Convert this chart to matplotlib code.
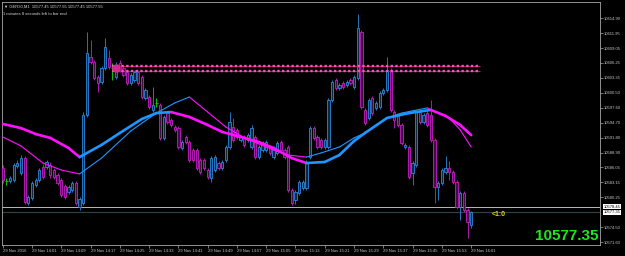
import matplotlib
matplotlib.use("Agg")
import matplotlib.pyplot as plt
import numpy as np
from matplotlib.collections import LineCollection

# GER30 M1 bars, 29 Nov 2016 13:53 .. 16:01
opens = [10585.95, 10583.45, 10583.45, 10583.60, 10586.35, 10584.95, 10587.85, 10579.20, 10580.15, 10582.65,
         10583.60, 10586.15, 10586.15, 10586.50, 10585.55, 10584.60, 10583.60, 10582.45, 10581.30, 10581.70,
         10583.05, 10578.40, 10579.20, 10596.15, 10607.35, 10606.40, 10603.50, 10602.55, 10605.25, 10607.20,
         10605.25, 10603.50, 10606.20, 10605.25, 10604.50, 10602.35, 10602.95, 10604.50, 10603.50, 10599.45,
         10599.65, 10597.15, 10598.50, 10598.10, 10591.75, 10596.55, 10595.20, 10593.85, 10593.65, 10589.80,
         10591.95, 10590.95, 10589.40, 10589.40, 10587.50, 10587.50, 10585.55, 10584.00, 10585.55, 10586.90,
         10585.95, 10587.50, 10590.00, 10593.85, 10593.30, 10591.35, 10591.95, 10591.35, 10590.00, 10591.95,
         10588.05, 10589.40, 10589.40, 10590.00, 10588.05, 10588.85, 10590.95, 10589.40, 10590.00, 10581.70,
         10579.75, 10581.10, 10582.10, 10582.10, 10588.05, 10593.65, 10591.95, 10591.35, 10590.00, 10590.00,
         10599.05, 10602.95, 10601.40, 10602.35, 10601.95, 10602.95, 10601.60, 10603.30, 10612.20, 10597.15,
         10595.60, 10599.45, 10597.55, 10597.70, 10600.40, 10601.00, 10604.85, 10596.75, 10596.15, 10594.25,
         10590.00, 10590.00, 10584.95, 10586.50, 10596.75, 10594.80, 10596.55, 10596.15, 10591.35, 10582.25,
         10583.05, 10585.15, 10585.95, 10585.15, 10583.25, 10578.40, 10581.10, 10577.85, 10574.95]
highs = [10586.50, 10584.00, 10584.40, 10586.90, 10587.50, 10588.45, 10588.25, 10580.75, 10583.45, 10584.00,
         10585.95, 10586.70, 10587.50, 10587.10, 10585.95, 10584.95, 10584.00, 10582.85, 10582.65, 10583.45,
         10583.45, 10580.35, 10596.75, 10612.20, 10610.65, 10606.80, 10603.90, 10605.65, 10611.05, 10608.75,
         10606.20, 10606.40, 10606.80, 10605.65, 10604.85, 10604.30, 10604.85, 10604.85, 10603.90, 10601.40,
         10600.05, 10601.60, 10599.45, 10598.50, 10596.15, 10596.95, 10595.60, 10594.25, 10594.05, 10591.35,
         10592.30, 10591.35, 10589.80, 10589.80, 10587.85, 10587.85, 10585.95, 10588.25, 10588.45, 10587.30,
         10587.50, 10590.40, 10596.75, 10595.60, 10593.65, 10592.30, 10592.30, 10592.70, 10594.25, 10592.30,
         10590.40, 10591.15, 10591.35, 10590.40, 10590.20, 10591.15, 10591.35, 10589.80, 10590.40, 10582.10,
         10581.70, 10583.60, 10583.60, 10587.50, 10594.05, 10594.05, 10592.30, 10591.75, 10591.75, 10599.45,
         10602.95, 10603.30, 10602.35, 10602.75, 10602.95, 10603.30, 10603.90, 10615.70, 10612.60, 10597.55,
         10599.45, 10599.85, 10598.90, 10600.80, 10601.40, 10607.35, 10605.25, 10597.15, 10596.55, 10594.65,
         10590.75, 10590.40, 10587.30, 10597.15, 10597.15, 10596.55, 10596.95, 10599.05, 10591.75, 10583.45,
         10585.95, 10588.25, 10587.30, 10585.55, 10583.60, 10581.50, 10581.50, 10578.20, 10577.65]
lows = [10583.05, 10582.65, 10583.05, 10583.25, 10585.95, 10584.60, 10579.00, 10578.80, 10579.75, 10582.25,
        10583.25, 10583.80, 10585.75, 10584.00, 10583.80, 10582.65, 10580.35, 10579.95, 10580.90, 10581.30,
        10578.80, 10577.85, 10578.80, 10595.80, 10606.00, 10602.95, 10600.60, 10602.15, 10604.85, 10605.05,
        10602.95, 10603.15, 10604.50, 10603.50, 10601.95, 10601.95, 10602.55, 10601.95, 10599.25, 10599.05,
        10597.35, 10596.75, 10597.70, 10591.35, 10591.35, 10594.45, 10593.85, 10592.90, 10589.60, 10589.40,
        10590.55, 10587.10, 10587.10, 10585.55, 10584.80, 10585.55, 10583.80, 10583.25, 10585.15, 10585.55,
        10585.55, 10587.10, 10589.60, 10590.95, 10591.55, 10590.95, 10590.00, 10590.95, 10589.60, 10587.70,
        10587.70, 10589.05, 10589.05, 10588.45, 10587.70, 10588.45, 10589.05, 10587.70, 10581.30, 10578.80,
        10579.00, 10580.75, 10581.70, 10581.70, 10587.70, 10591.35, 10589.60, 10589.60, 10589.60, 10589.60,
        10598.70, 10601.00, 10601.00, 10601.20, 10601.60, 10601.95, 10601.20, 10602.95, 10597.35, 10594.25,
        10595.20, 10596.15, 10597.15, 10597.35, 10600.05, 10600.60, 10596.75, 10593.65, 10593.85, 10590.40,
        10589.60, 10583.80, 10582.65, 10586.15, 10594.45, 10594.45, 10593.85, 10590.95, 10579.20, 10579.75,
        10582.65, 10584.80, 10583.60, 10582.85, 10578.00, 10575.90, 10577.45, 10572.40, 10574.35]
closes = [10583.60, 10583.45, 10584.00, 10586.50, 10586.90, 10587.85, 10579.35, 10580.35, 10583.05, 10583.60,
          10585.55, 10584.20, 10587.10, 10584.60, 10584.20, 10583.05, 10580.75, 10580.35, 10582.25, 10583.05,
          10579.20, 10579.95, 10596.15, 10608.15, 10606.40, 10603.30, 10602.35, 10605.25, 10609.30, 10605.45,
          10605.25, 10605.85, 10604.85, 10603.90, 10602.35, 10603.90, 10604.50, 10602.35, 10599.65, 10601.00,
          10597.70, 10598.10, 10598.50, 10591.75, 10595.80, 10594.80, 10594.25, 10593.30, 10590.00, 10590.95,
          10590.95, 10587.50, 10587.50, 10585.95, 10585.15, 10585.95, 10584.20, 10587.85, 10588.05, 10585.95,
          10587.10, 10590.00, 10594.80, 10591.35, 10591.95, 10591.95, 10590.40, 10592.30, 10593.65, 10588.05,
          10590.00, 10590.75, 10590.95, 10588.85, 10589.80, 10590.75, 10589.40, 10588.05, 10581.70, 10579.20,
          10581.30, 10583.25, 10583.25, 10587.10, 10593.65, 10591.75, 10590.00, 10590.00, 10591.35, 10599.05,
          10602.55, 10601.40, 10601.95, 10601.60, 10602.55, 10602.35, 10603.50, 10612.95, 10597.70, 10594.65,
          10599.05, 10596.55, 10598.50, 10600.40, 10601.00, 10604.85, 10597.15, 10595.20, 10594.25, 10590.75,
          10590.40, 10584.20, 10586.90, 10596.75, 10594.80, 10596.15, 10594.25, 10591.35, 10582.25, 10583.05,
          10585.55, 10585.95, 10585.15, 10583.25, 10578.40, 10581.10, 10577.85, 10575.50, 10577.35]

# moving averages (bar index, price)
slow_idx = [0, 5, 9, 13, 18, 21, 27, 32, 38, 42, 46, 51, 56, 60, 65, 70, 74, 79, 83, 88, 92, 96, 99, 105,
            111, 117, 121, 125, 128]
slow_val = [10594.45, 10593.65, 10592.50, 10591.75, 10589.80, 10588.05, 10590.40, 10592.70, 10595.40, 10596.55,
            10596.75, 10595.80, 10594.25, 10592.90, 10591.95, 10590.95, 10589.80, 10587.85, 10586.90, 10587.10,
            10588.45, 10591.15, 10592.70, 10595.60, 10596.55, 10597.15, 10596.00, 10594.25, 10592.30]
fast_idx = [0, 5, 11, 16, 21, 27, 35, 42, 47, 51, 56, 61, 66, 74, 78, 83, 87, 92, 96, 99, 105, 109, 116, 122,
            125, 128]
fast_val = [10591.95, 10590.20, 10586.90, 10585.55, 10584.80, 10587.85, 10593.10, 10596.55, 10598.50, 10599.65,
            10596.75, 10593.85, 10591.75, 10589.40, 10588.45, 10588.05, 10588.85, 10590.00, 10591.75, 10592.70,
            10595.60, 10596.55, 10597.55, 10595.60, 10593.30, 10590.00]

zone_levels = [10605.65, 10604.65]
zone_start, zone_end = 30, 130.5
order_bar, order_price = 31, 10605.25

bid, ask = 10577.35, 10578.45
price_labels = ["10614.90", "10611.95", "10609.05", "10606.25", "10603.35", "10600.50", "10597.60",
                "10594.70", "10591.80", "10588.90", "10586.05", "10583.15", "10580.25", "10574.50", "10571.60"]
time_labels = ["29 Nov 2016", "29 Nov 14:01", "29 Nov 14:09", "29 Nov 14:17", "29 Nov 14:25", "29 Nov 14:33",
               "29 Nov 14:41", "29 Nov 14:49", "29 Nov 14:57", "29 Nov 15:05", "29 Nov 15:13", "29 Nov 15:21",
               "29 Nov 15:29", "29 Nov 15:37", "29 Nov 15:45", "29 Nov 15:53", "29 Nov 16:01"]

BULL_EDGE, BULL_FACE = "#2a88e0", "#0e2640"
BEAR_EDGE, BEAR_FACE = "#c81ec8", "#420c48"
MA_UP, MA_DOWN = "#1e96ff", "#ff10ff"
SMALL = ["Liberation Sans", "DejaVu Sans"]

fig = plt.figure(figsize=(6.25, 2.56), dpi=100, facecolor="black")
ax = fig.add_axes([2 / 625, 11 / 256, 598 / 625, 243 / 256], facecolor="black")

o = np.array(opens)
h = np.array(highs)
l = np.array(lows)
c = np.array(closes)
x = np.arange(len(o))
up = c > o
dn = c < o
dj = c == o

ax.vlines(x[up], l[up], h[up], color=BULL_EDGE, lw=0.6, zorder=2)
ax.bar(x[up], c[up] - o[up], bottom=o[up], width=0.62, color=BULL_FACE, edgecolor=BULL_EDGE, lw=0.6, zorder=3)
ax.vlines(x[dn], l[dn], h[dn], color=BEAR_EDGE, lw=0.6, zorder=2)
ax.bar(x[dn], o[dn] - c[dn], bottom=c[dn], width=0.62, color=BEAR_FACE, edgecolor=BEAR_EDGE, lw=0.6, zorder=3)
ax.vlines(x[dj], l[dj], h[dj], color="#00c800", lw=0.7, zorder=2)
ax.hlines(o[dj], x[dj] - 0.35, x[dj] + 0.35, color="#00c800", lw=0.7, zorder=2)


def draw_ma(idx, val, lw):
    pts = np.column_stack([idx, val])
    segs = np.stack([pts[:-1], pts[1:]], axis=1)
    cols = [MA_UP if d >= 0 else MA_DOWN for d in np.diff(val)]
    ax.add_collection(LineCollection(segs, colors=cols, linewidths=lw, capstyle="round", zorder=4))


draw_ma(slow_idx, slow_val, 1.9)
draw_ma(fast_idx, fast_val, 0.8)

# order zone lines
for lev in zone_levels:
    ax.hlines(lev, zone_start, zone_end, color="#b0186e", lw=0.8, zorder=5)
    ax.hlines(lev, zone_start, zone_end, color="#ff4fb4", lw=1.7, linestyles=(0, (1, 1)), zorder=5)
ax.plot(order_bar, order_price, "o", color="#d6288f", ms=5, zorder=6)

# ask / bid lines
ax.axhline(ask, color="#b8b8b8", lw=0.7, zorder=1)
ax.axhline(bid, color="#2e4444", lw=0.8, zorder=1)

ax.set_xlim(-0.19, 163.2)
ax.set_ylim(10571.07, 10618.0)

for s in ax.spines.values():
    s.set_color("#a8a8a8")
    s.set_linewidth(0.6)

ax.yaxis.tick_right()
ax.set_yticks([float(v) for v in price_labels])
ax.set_yticklabels(price_labels, fontsize=3.0, family=SMALL, color="#c8c8c8")
ax.set_xticks(np.arange(0, 129, 8))
ax.set_xticklabels(time_labels, fontsize=3.0, family=SMALL, color="#c8c8c8", ha="left")
ax.tick_params(axis="both", length=2, width=0.5, color="#a8a8a8", pad=1)

ytrans = ax.get_yaxis_transform()
for val in (ask, bid):
    ax.text(1.006, val, f"{val:.2f}", transform=ytrans, fontsize=3.0, family=SMALL, color="black",
            va="center", ha="left", clip_on=False,
            bbox=dict(boxstyle="square,pad=0.15", fc="white", ec="none"))

ax.text(0.004, 0.988, "\u25bc GER30,M1  10577.45 10577.55 10577.45 10577.55", transform=ax.transAxes,
        fontsize=3.0, family=SMALL, color="#d8d8d8", va="top", ha="left")
ax.text(0.002, 0.958, "1 minutes 8 seconds left to bar end", transform=ax.transAxes,
        fontsize=3.0, family=SMALL, color="#d8d8d8", va="top", ha="left")

ax.text(133.7, 10577.05, "<1:0", fontsize=5.0, family=SMALL, weight="bold", color="#e8d800",
        va="center", ha="left")
ax.text(0.997, 0.035, f"{bid:.2f}", transform=ax.transAxes, fontsize=11, family=SMALL, weight="bold",
        color="#1ee61e", va="center", ha="right")

fig.savefig("out.png", dpi=100, facecolor="black")
